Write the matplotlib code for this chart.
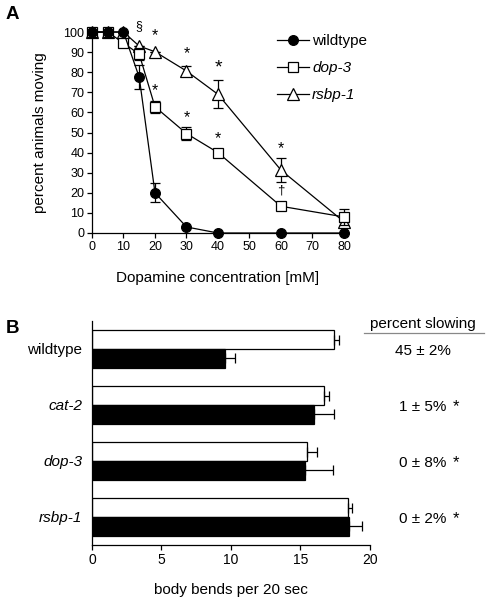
import matplotlib.pyplot as plt
import numpy as np

plt.rcParams['font.family'] = ['Liberation Sans', 'DejaVu Sans']
plt.rcParams['font.size'] = 9
plt.rcParams['axes.linewidth'] = 0.9
plt.rcParams['xtick.major.width'] = 0.9
plt.rcParams['ytick.major.width'] = 0.9

# panel A: percent animals moving vs dopamine
conc = [0, 5, 10, 15, 20, 30, 40, 60, 80]
wt_move = [100, 100, 100, 77.5, 20, 3, 0, 0, 0]
wt_err = [0, 0, 0, 6, 4.7, 0, 0, 0, 0]
dop3_move = [100, 100, 94.5, 89, 62.8, 49.5, 40, 13.3, 8]
dop3_err = [0, 0, 0, 3, 3, 3, 0, 0, 3.8]
rsbp1_move = [100, 100, 100, 93, 90.2, 80.6, 69, 31.3, 5.6]
rsbp1_err = [0, 0, 0, 0, 0, 2.5, 7, 6, 0]

# panel B: body bends per 20 sec (off food = white, on dopamine = black)
strains = ['wildtype', 'cat-2', 'dop-3', 'rsbp-1']
bends_white = [17.4, 16.7, 15.5, 18.45]
err_white = [0.35, 0.37, 0.7, 0.28]
bends_black = [9.6, 16.0, 15.3, 18.5]
err_black = [0.7, 1.4, 2.05, 0.9]
slowing = ['45 ± 2%', '1 ± 5%', '0 ± 8%', '0 ± 2%']
slow_sig = ['', '*', '*', '*']

fig = plt.figure(figsize=(4.89, 6.03), dpi=100)

# ---- A ----
ax = fig.add_axes([0.1881, 0.6136, 0.5153, 0.3333])
series = [(wt_move, wt_err, 'o', 7, 'black', 'wildtype', 4),
          (dop3_move, dop3_err, 's', 7.5, 'white', 'dop-3', 3),
          (rsbp1_move, rsbp1_err, '^', 8.5, 'white', 'rsbp-1', 2)]
for yv, ye, mk, ms, fc, lab, z in series:
    ax.errorbar(conc, yv, yerr=ye, fmt='none', ecolor='black',
                elinewidth=0.9, capsize=3.5, capthick=0.9, clip_on=False,
                zorder=z)
    ax.plot(conc, yv, color='black', marker=mk, ms=ms, mfc=fc, mec='black',
            mew=0.9, lw=0.9, label=lab, clip_on=False, zorder=z + 0.5)
ax.set_xlim(0, 80)
ax.set_ylim(0, 100)
ax.set_xticks(range(0, 81, 10))
ax.set_yticks(range(0, 101, 10))
ax.tick_params(length=3.5, pad=2, labelsize=9)
ax.spines['top'].set_visible(False)
ax.spines['right'].set_visible(False)
ax.set_ylabel('percent animals moving', fontsize=11, labelpad=12)
ax.set_xlabel('Dopamine concentration [mM]', fontsize=11, labelpad=13)

# significance marks
marks = [(15, 103, '§', 9), (20, 98, '*', 11.5), (30, 89, '*', 11.5),
         (40, 82, '*', 14), (20, 71, '*', 11.5), (30, 57.5, '*', 11.5),
         (40, 47, '*', 11.5), (60, 42, '*', 11.5), (60, 21, '†', 9.5)]
for mx, my, s, fs in marks:
    ax.text(mx, my, s, ha='center', va='center', fontsize=fs)

leg = ax.legend(loc='upper left', bbox_to_anchor=(0.71, 1.02), frameon=False,
                handlelength=2.1, handletextpad=0.2, labelspacing=0.85,
                fontsize=11, borderaxespad=0)
for t in leg.get_texts()[1:]:
    t.set_style('italic')

fig.text(0.012, 0.976, 'A', fontsize=13.5, fontweight='bold', va='center')

# ---- B ----
bx = fig.add_axes([0.1881, 0.0962, 0.5685, 0.3715])
ypos = np.arange(len(strains)) * 3
bx.barh(ypos + 0.5, bends_white, height=1, color='white', edgecolor='black',
        lw=0.9, xerr=[[0] * 4, err_white], capsize=3.5,
        error_kw=dict(elinewidth=0.9, capthick=0.9))
bx.barh(ypos + 1.5, bends_black, height=1, color='black', edgecolor='black',
        lw=0.9, xerr=[[0] * 4, err_black], capsize=3.5,
        error_kw=dict(elinewidth=0.9, capthick=0.9))
bx.set_ylim(11.5, -0.5)
bx.set_xlim(0, 20)
bx.set_xticks([0, 5, 10, 15, 20])
bx.set_yticks(ypos + 1)
bx.set_yticklabels(strains)
for i, t in enumerate(bx.get_yticklabels()):
    if i > 0:
        t.set_style('italic')
bx.tick_params(axis='y', length=0, pad=7, labelsize=11)
bx.tick_params(axis='x', length=3.5, pad=2, labelsize=10)
bx.spines['top'].set_visible(False)
bx.spines['right'].set_visible(False)
bx.set_xlabel('body bends per 20 sec', fontsize=11, labelpad=12)

bx.text(23.8, -0.35, 'percent slowing', ha='center', va='center',
        fontsize=11, clip_on=False)
bx.plot([19.6, 28.2], [0.14, 0.14], color='#888888', lw=0.9, clip_on=False)
for i in range(len(strains)):
    bx.text(23.8, ypos[i] + 1.1, slowing[i], ha='center', va='center',
            fontsize=11, clip_on=False)
    bx.text(26.2, ypos[i] + 1.1, slow_sig[i], ha='center', va='center',
            fontsize=12, clip_on=False)

fig.text(0.012, 0.456, 'B', fontsize=13.5, fontweight='bold', va='center')

fig.savefig('out.png', dpi=100)
